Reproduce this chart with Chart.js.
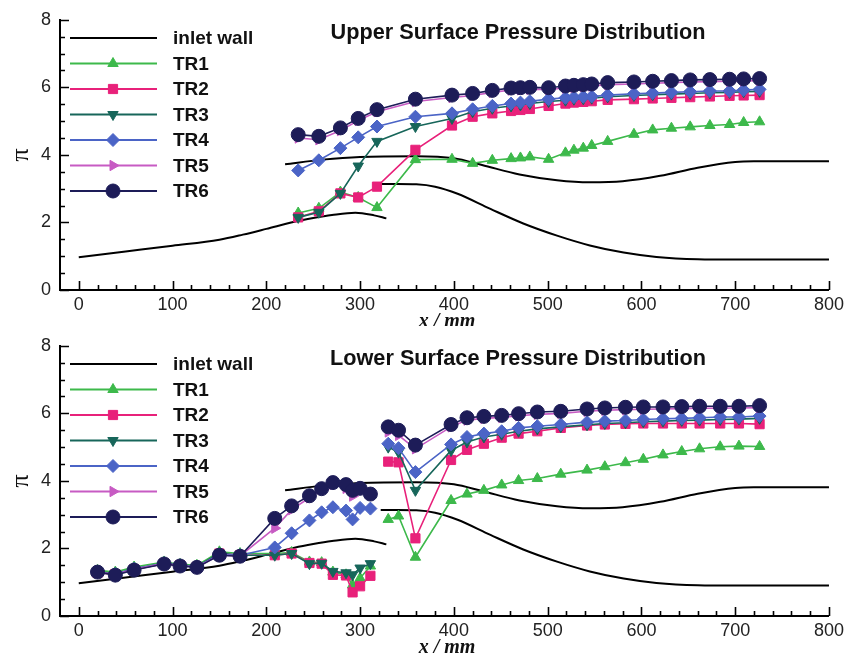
<!DOCTYPE html>
<html>
<head>
<meta charset="utf-8">
<title>Surface Pressure Distribution</title>
<script src="https://cdn.jsdelivr.net/npm/chart.js@4/dist/chart.umd.min.js"></script>
<style>
  html, body { margin: 0; padding: 0; background: #fff; }
  canvas { display: block; }
</style>
</head>
<body>
<canvas id="upperChart" width="848" height="326"></canvas>
<canvas id="lowerChart" width="848" height="330"></canvas>
<script>
// upper surface taps (x in mm) and pressure ratio per throttle ratio
var upX   = [234, 256, 279, 298, 318, 359, 398, 420, 441, 461, 471, 481, 501, 519, 528, 538, 547, 564, 592, 612, 632, 652, 673, 694, 709, 726];
var upTR1 = [2.28, 2.42, 2.90, 2.74, 2.44, 3.86, 3.87, 3.75, 3.84, 3.89, 3.91, 3.94, 3.87, 4.06, 4.14, 4.20, 4.28, 4.40, 4.61, 4.74, 4.79, 4.83, 4.87, 4.90, 4.96, 4.98];
var upTR2 = [2.15, 2.33, 2.86, 2.74, 3.06, 4.15, 4.87, 5.13, 5.23, 5.30, 5.33, 5.36, 5.45, 5.52, 5.55, 5.57, 5.59, 5.63, 5.65, 5.67, 5.69, 5.71, 5.73, 5.75, 5.76, 5.77];
var upTR3 = [2.15, 2.30, 2.86, 3.67, 4.40, 4.84, 5.08, 5.28, 5.38, 5.45, 5.48, 5.52, 5.58, 5.62, 5.65, 5.66, 5.68, 5.72, 5.76, 5.78, 5.80, 5.82, 5.84, 5.85, 5.87, 5.88];
var upTR4 = [3.54, 3.84, 4.20, 4.52, 4.84, 5.13, 5.23, 5.35, 5.45, 5.52, 5.55, 5.59, 5.65, 5.69, 5.71, 5.72, 5.73, 5.77, 5.81, 5.83, 5.85, 5.87, 5.89, 5.89, 5.92, 5.94];
var upTR5 = [4.50, 4.45, 4.72, 5.02, 5.28, 5.58, 5.70, 5.76, 5.85, 5.92, 5.93, 5.94, 5.94, 5.98, 6.00, 6.02, 6.04, 6.08, 6.10, 6.12, 6.14, 6.16, 6.17, 6.18, 6.19, 6.20];
var upTR6 = [4.60, 4.55, 4.80, 5.08, 5.34, 5.65, 5.77, 5.82, 5.91, 5.98, 5.99, 6.00, 5.99, 6.04, 6.06, 6.08, 6.10, 6.14, 6.16, 6.18, 6.20, 6.22, 6.23, 6.24, 6.25, 6.26];

// lower surface, forward group of taps
var lowFwdX   = [20, 39, 59, 91, 108, 126, 150, 172, 209, 227, 246, 259, 271, 285, 292, 300, 311];
var lowFwdTR1 = [1.35, 1.30, 1.45, 1.60, 1.53, 1.50, 1.90, 1.85, 1.85, 1.88, 1.60, 1.58, 1.30, 1.22, 0.92, 1.12, 1.48];
var lowFwdTR2 = [1.28, 1.24, 1.38, 1.55, 1.50, 1.45, 1.85, 1.80, 1.80, 1.85, 1.57, 1.55, 1.22, 1.20, 0.70, 0.88, 1.19];
var lowFwdTR3 = [1.30, 1.25, 1.40, 1.56, 1.50, 1.46, 1.86, 1.80, 1.80, 1.85, 1.55, 1.56, 1.32, 1.28, 1.22, 1.42, 1.55];
var lowFwdTR4 = [1.30, 1.24, 1.40, 1.56, 1.50, 1.46, 1.82, 1.80, 2.03, 2.45, 2.83, 3.07, 3.22, 3.12, 2.86, 3.20, 3.18];
var lowFwdTR5 = [1.30, 1.23, 1.38, 1.55, 1.49, 1.45, 1.80, 1.78, 2.60, 3.15, 3.50, 3.75, 3.90, 3.78, 3.55, 3.72, 3.60];
var lowFwdTR6 = [1.30, 1.21, 1.36, 1.54, 1.48, 1.44, 1.80, 1.77, 2.89, 3.26, 3.56, 3.77, 3.95, 3.89, 3.72, 3.78, 3.61];

// lower surface, aft group of taps
var lowAftX   = [330, 341, 359, 397, 414, 432, 451, 469, 489, 514, 542, 561, 583, 602, 623, 643, 662, 684, 704, 726];
var lowAftTR1 = [2.86, 2.96, 1.74, 3.42, 3.61, 3.72, 3.88, 4.01, 4.07, 4.20, 4.32, 4.42, 4.54, 4.64, 4.77, 4.87, 4.95, 5.01, 5.03, 5.02];
var lowAftTR2 = [4.57, 4.55, 2.30, 4.62, 4.92, 5.10, 5.28, 5.40, 5.47, 5.57, 5.64, 5.67, 5.69, 5.70, 5.70, 5.70, 5.70, 5.70, 5.70, 5.68];
var lowAftTR3 = [5.00, 4.85, 3.72, 4.90, 5.15, 5.30, 5.38, 5.47, 5.54, 5.60, 5.66, 5.70, 5.72, 5.75, 5.77, 5.79, 5.80, 5.82, 5.83, 5.85];
var lowAftTR4 = [5.10, 4.97, 4.26, 5.08, 5.30, 5.40, 5.47, 5.57, 5.62, 5.67, 5.74, 5.77, 5.79, 5.82, 5.84, 5.85, 5.87, 5.89, 5.89, 5.92];
var lowAftTR5 = [5.45, 5.35, 4.95, 5.60, 5.80, 5.85, 5.88, 5.93, 5.97, 6.00, 6.06, 6.09, 6.11, 6.12, 6.13, 6.14, 6.15, 6.15, 6.16, 6.17];
var lowAftTR6 = [5.60, 5.50, 5.06, 5.67, 5.87, 5.91, 5.94, 5.99, 6.04, 6.06, 6.13, 6.16, 6.18, 6.19, 6.19, 6.20, 6.21, 6.21, 6.21, 6.23];

// inlet wall contours (same outline behind both panels)
var wall1X = [0, 50, 100, 150, 175, 200, 230, 250, 270, 295, 315, 328];
var wall1Y = [0.97, 1.14, 1.31, 1.49, 1.64, 1.81, 2.02, 2.13, 2.22, 2.29, 2.21, 2.12];
var wall2X = [220, 260, 300, 360, 400, 430, 470, 510, 545, 580, 620, 660, 700, 720, 800];
var wall2Y = [3.72, 3.86, 3.94, 3.96, 3.90, 3.70, 3.42, 3.25, 3.19, 3.22, 3.38, 3.62, 3.79, 3.81, 3.81];
var wall3X = [322, 340, 360, 380, 404, 439, 474, 510, 545, 581, 616, 660, 700, 800];
var wall3Y = [3.14, 3.14, 3.13, 3.06, 2.85, 2.40, 1.97, 1.61, 1.32, 1.11, 0.98, 0.91, 0.90, 0.90];

var SERIES = [
  { label: 'TR1', color: '#3db94b', style: 'triangle', rot: 0,   r: 6 },
  { label: 'TR2', color: '#e8217a', style: 'rect',     rot: 0,   r: 6.5 },
  { label: 'TR3', color: '#17665a', style: 'triangle', rot: 180, r: 6 },
  { label: 'TR4', color: '#4b64c6', style: 'rectRot',  rot: 0,   r: 6.5 },
  { label: 'TR5', color: '#c75bc3', style: 'triangle', rot: 90,  r: 6 },
  { label: 'TR6', color: '#1d1c58', style: 'circle',   rot: 0,   r: 7 }
];

function pts(xs, ys) {
  return xs.map(function (x, i) { return { x: x, y: ys[i] }; });
}

// two tap groups joined by an empty point so the line breaks between them
function withGap(xa, ya, xb, yb) {
  var gap = { x: (xa[xa.length - 1] + xb[0]) / 2, y: null };
  return pts(xa, ya).concat([gap], pts(xb, yb));
}

// tick marks drawn on the inside of the axes, majors longer
var innerTicks = {
  id: 'innerTicks',
  afterDraw: function (chart) {
    var ctx = chart.ctx, a = chart.chartArea;
    var xs = chart.scales.x, ys = chart.scales.y;
    ctx.save();
    ctx.strokeStyle = '#000';
    ctx.lineWidth = 1.6;
    ctx.beginPath();
    for (var v = 0; v <= 800; v += 20) {
      var px = Math.round(xs.getPixelForValue(v)) + 0.5;
      ctx.moveTo(px, a.bottom);
      ctx.lineTo(px, a.bottom - (v % 100 === 0 ? 9 : 5));
    }
    for (var k = 0; k <= 16; k++) {
      var py = Math.round(ys.getPixelForValue(k / 2)) + 0.5;
      ctx.moveTo(a.left, py);
      ctx.lineTo(a.left + (k % 4 === 0 ? 9 : 5), py);
    }
    ctx.stroke();
    ctx.restore();
  }
};

// legend in the upper left corner of the plot
var insetLegend = {
  id: 'insetLegend',
  afterDraw: function (chart) {
    var ctx = chart.ctx;
    var items = [{ label: 'inlet wall', color: '#000' }].concat(SERIES);
    ctx.save();
    ctx.font = 'bold 19px "Liberation Sans", Arial, sans-serif';
    ctx.textBaseline = 'middle';
    ctx.textAlign = 'left';
    items.forEach(function (it, i) {
      var y = 38 + i * 25.5;
      ctx.strokeStyle = it.color;
      ctx.lineWidth = 2;
      ctx.beginPath();
      ctx.moveTo(70, y);
      ctx.lineTo(157, y);
      ctx.stroke();
      if (it.style) {
        ctx.fillStyle = it.color;
        ctx.lineWidth = 1;
        Chart.helpers.drawPoint(ctx, {
          pointStyle: it.style, rotation: it.rot, radius: it.r, borderWidth: 1
        }, 113, y);
      }
      ctx.fillStyle = '#111';
      ctx.fillText(it.label, 173, y + 1);
    });
    ctx.restore();
  }
};

// panel heading and axis titles
var panelText = {
  id: 'panelText',
  afterDraw: function (chart, args, opts) {
    var ctx = chart.ctx;
    ctx.save();
    ctx.fillStyle = '#111';
    ctx.textAlign = 'center';
    ctx.textBaseline = 'middle';
    ctx.font = 'bold 21.7px "Liberation Sans", Arial, sans-serif';
    ctx.fillText(opts.title, 518, 33);
    ctx.font = 'italic bold 20px "Liberation Serif", "Times New Roman", serif';
    ctx.fillText('x / mm', 447, 322);
    ctx.translate(21, 155);
    ctx.rotate(-Math.PI / 2);
    ctx.font = '26px "Liberation Serif", "Times New Roman", serif';
    ctx.fillText('\u03c0', 0, 0);
    ctx.restore();
  }
};

function makeChart(id, title, trData) {
  var datasets = [];
  SERIES.forEach(function (s, i) {
    datasets.push({
      label: s.label,
      data: trData[i],
      borderColor: s.color,
      backgroundColor: s.color,
      borderWidth: 1.6,
      pointStyle: s.style,
      pointRotation: s.rot,
      pointRadius: s.r,
      pointBackgroundColor: s.color,
      pointBorderColor: s.color,
      pointBorderWidth: 1,
      order: 6 - i
    });
  });
  [[wall1X, wall1Y], [wall2X, wall2Y], [wall3X, wall3Y]].forEach(function (w, i) {
    datasets.push({
      label: i === 0 ? 'inlet wall' : 'wall ' + (i + 1),
      data: pts(w[0], w[1]),
      borderColor: '#000',
      borderWidth: 2,
      pointRadius: 0,
      cubicInterpolationMode: 'monotone',
      order: 10
    });
  });

  var tickFont = { family: '"Liberation Sans", Arial, sans-serif', size: 18 };

  return new Chart(document.getElementById(id), {
    type: 'line',
    data: { datasets: datasets },
    options: {
      responsive: false,
      animation: false,
      events: [],
      layout: { padding: { top: 17, right: 18, left: 0, bottom: 0 } },
      scales: {
        x: {
          type: 'linear',
          min: -20,
          max: 800,
          afterFit: function (s) { s.height = s.chart.height - 290; },
          ticks: { stepSize: 100, includeBounds: false, font: tickFont, color: '#222', padding: 4, maxRotation: 0 },
          grid: { display: false, drawTicks: false },
          border: { display: true, color: '#000', width: 2 }
        },
        y: {
          min: 0,
          max: 8,
          afterFit: function (s) { s.width = 60; },
          ticks: { stepSize: 2, font: tickFont, color: '#222', padding: 9 },
          grid: { display: false, drawTicks: false },
          border: { display: true, color: '#000', width: 2 }
        }
      },
      plugins: {
        legend: { display: false },
        tooltip: { enabled: false },
        panelText: { title: title }
      }
    },
    plugins: [innerTicks, insetLegend, panelText]
  });
}

makeChart('upperChart', 'Upper Surface Pressure Distribution', [
  pts(upX, upTR1), pts(upX, upTR2), pts(upX, upTR3),
  pts(upX, upTR4), pts(upX, upTR5), pts(upX, upTR6)
]);

makeChart('lowerChart', 'Lower Surface Pressure Distribution', [
  withGap(lowFwdX, lowFwdTR1, lowAftX, lowAftTR1),
  withGap(lowFwdX, lowFwdTR2, lowAftX, lowAftTR2),
  withGap(lowFwdX, lowFwdTR3, lowAftX, lowAftTR3),
  withGap(lowFwdX, lowFwdTR4, lowAftX, lowAftTR4),
  withGap(lowFwdX, lowFwdTR5, lowAftX, lowAftTR5),
  withGap(lowFwdX, lowFwdTR6, lowAftX, lowAftTR6)
]);
</script>
</body>
</html>
